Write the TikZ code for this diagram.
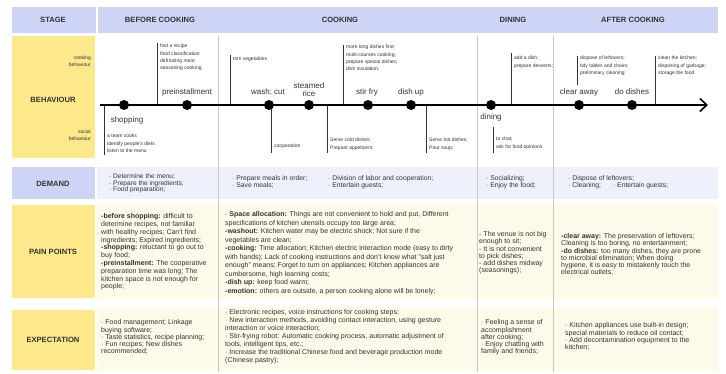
\documentclass[tikz,border=0pt]{standalone}
\usepackage{fontspec}
\setmainfont{Liberation Sans}
\usetikzlibrary{arrows.meta}
\definecolor{hdr}{HTML}{CDD4F6}
\definecolor{ylw}{HTML}{FDE98C}
\definecolor{dmd}{HTML}{EEF1FB}
\definecolor{crm}{HTML}{FCFAE8}
\definecolor{txt}{HTML}{333333}
\definecolor{divc}{HTML}{C8C8C8}
\begin{document}
\begin{tikzpicture}[x=1pt,y=-1pt,
  hd/.style={font=\bfseries\fontsize{7.6}{8}\selectfont, text=txt, inner sep=0},
  dot/.style={circle, fill=black, minimum size=10pt, inner sep=0},
  lbl/.style={font=\fontsize{8}{8.6}\selectfont, text=txt, inner sep=0, align=center},
  ann/.style={font=\fontsize{5}{7.2}\selectfont, text=txt, inner sep=0, anchor=north west, align=left},
  annr/.style={font=\fontsize{5}{7}\selectfont, text=txt, inner sep=0, anchor=north east, align=right},
  annline/.style={draw=black!80, line width=0.5pt},
  body/.style={font=\fontsize{7}{7.8}\selectfont, text=txt, inner sep=0, anchor=north west, align=left},
  divline/.style={draw=divc, line width=0.8pt},
  timeline/.style={draw=black, line width=1.8pt, -{Straight Barb[length=7pt,width=13pt,line width=1.6pt]}}
]
\useasboundingbox (0,0) rectangle (726,374);
\fill[white] (0,0) rectangle (726,374);
% header
\fill[hdr] (12,7) rectangle (96,33);
\fill[hdr] (98,7) rectangle (718,33);
% label boxes
\fill[ylw] (12,36) rectangle (95,158);
\fill[hdr] (12,167) rectangle (95,199);
\fill[ylw] (12,205) rectangle (95,298);
\fill[ylw] (12,310) rectangle (95,370);
% body backgrounds
\fill[dmd] (97,167) rectangle (718,199);
\fill[crm] (97,204) rectangle (718,299);
\fill[crm] (97,307) rectangle (718,371);
% dividers
\draw[divline] (218,36) -- (218,372);
\draw[divline] (477,36) -- (477,372);
\draw[divline] (553,36) -- (553,372);
% header texts
\node[hd] (hs) at (53,20) {STAGE};
\node[hd] (hb) at (160,20) {BEFORE COOKING};
\node[hd] (hc) at (340,20) {COOKING};
\node[hd] (hdn) at (513,20) {DINING};
\node[hd] (ha) at (633,20) {AFTER COOKING};
% row labels
\node[hd] (rb) at (53,100) {BEHAVIOUR};
\node[hd] (rd) at (53,184) {DEMAND};
\node[hd] (rp) at (53,252) {PAIN POINTS};
\node[hd] (re) at (53,340) {EXPECTATION};
\node[annr] (cb) at (91,55.5) {cooking\\behaviour};
\node[annr] (sb) at (91,129.5) {social\\behaviour};
% timeline
\coordinate (t0) at (100,105);
\coordinate (t1) at (708,105);
% annotation connectors (drawn before timeline)
\coordinate (a1b) at (104,105); \coordinate (a1e) at (104,155);
\coordinate (a2b) at (157,105); \coordinate (a2e) at (157,43);
\coordinate (a3b) at (230,105); \coordinate (a3e) at (230,55);
\coordinate (a4b) at (271,105); \coordinate (a4e) at (271,153);
\coordinate (a5b) at (327,105); \coordinate (a5e) at (327,153);
\coordinate (a6b) at (343,105); \coordinate (a6e) at (343,45);
\coordinate (a7b) at (426,105); \coordinate (a7e) at (426,153);
\coordinate (a8b) at (511,105); \coordinate (a8e) at (511,53);
\coordinate (a9b) at (493,127); \coordinate (a9e) at (493,153);
\coordinate (a10b) at (577,85); \coordinate (a10e) at (577,56);
\coordinate (a11b) at (655,105); \coordinate (a11e) at (655,56);
\foreach \i in {1,...,11} {\draw[annline] (a\i b) -- (a\i e);}
\draw[timeline] (t0) -- (t1);
% dots
\node[dot] (d1) at (124,105) {};
\node[dot] (d2) at (187,105) {};
\node[dot] (d3) at (269,105) {};
\node[dot] (d4) at (309,105) {};
\node[dot] (d5) at (368,105) {};
\node[dot] (d6) at (411,105) {};
\node[dot] (d7) at (491,105) {};
\node[dot] (d8) at (579,105) {};
\node[dot] (d9) at (632,105) {};
% step labels
\node[lbl] (l1) at (127,120) {shopping};
\node[lbl] (l2) at (187,92) {preinstallment};
\node[lbl] (l3) at (268,92) {wash; cut};
\node[lbl] (l4) at (309,89.5) {steamed\\rice};
\node[lbl] (l5) at (367,92) {stir fry};
\node[lbl] (l6) at (411,92) {dish up};
\node[lbl] (l7) at (491,117) {dining};
\node[lbl] (l8) at (579,92) {clear away};
\node[lbl] (l9) at (632,92) {do dishes};
% annotations
\node[ann] (n1) at (107,134) {a team cooks\\identify people's diets\\listen to the menu};
\node[ann] (n2) at (160,44) {find a recipe\\food classification\\defrosting meat\\seasoning cooking};
\node[ann] (n3) at (233,57) {trim vegetables};
\node[ann] (n4) at (274,144) {cooperation};
\node[ann] (n5) at (330,138) {Serve cold dishes;\\Prepare appetizers;};
\node[ann] (n6) at (346,45) {more long dishes first;\\multi-courses cooking;\\prepare special dishes;\\dish insulation;};
\node[ann] (n7) at (429,138) {Serve hot dishes;\\Pour soup;};
\node[ann] (n8) at (514,56) {add a dish;\\prepare desserts;};
\node[ann] (n9) at (496,137) {to chat;\\ask for food opinions};
\node[ann] (n10) at (580,56) {dispose of leftovers;\\tidy tables and chairs;\\preliminary cleaning};
\node[ann] (n11) at (658,56) {clean the kitchen;\\disposing of garbage;\\storage the food};
% demand
\node[body, font=\fontsize{6.6}{6.6}\selectfont] (db) at (109,173.7) {· Determine the menu;\\· Prepare the ingredients;\\· Food preparation;};
\node[body, font=\fontsize{6.8}{7}\selectfont] (dc1) at (232,175.7) {· Prepare meals in order;\\· Save meals;};
\node[body, font=\fontsize{6.8}{7}\selectfont] (dc2) at (328,175.7) {· Division of labor and cooperation;\\· Entertain guests;};
\node[body, font=\fontsize{6.8}{7}\selectfont] (dd) at (486,175.7) {· Socializing;\\· Enjoy the food;};
\node[body, font=\fontsize{6.8}{7}\selectfont] (da) at (568,175.7) {· Dispose of leftovers;\\· Cleaning;\hspace{12pt}· Entertain guests;};
% pain points
\node[body] (pb) at (101,213.5) {\textbf{-before shopping:} difficult to\\determine recipes, not familiar\\with healthy recipes; Can't find\\ingredients; Expired ingredients;\\\textbf{-shopping:} reluctant to go out to\\buy food;\\\textbf{-preinstallment:} The cooperative\\preparation time was long; The\\kitchen space is not enough for\\people;};
\node[body, font=\fontsize{7}{8.5}\selectfont] (pc) at (225,211.5) {· \textbf{Space allocation:} Things are not convenient to hold and put, Different\\specifications of kitchen utensils occupy too large area;\\\textbf{-washout:} Kitchen water may be electric shock; Not sure if the\\vegetables are clean;\\\textbf{-cooking:} Time allocation; Kitchen electric interaction mode (easy to dirty\\with hands); Lack of cooking instructions and don't know what "salt just\\enough" means; Forget to turn on appliances; Kitchen appliances are\\cumbersome, high learning costs;\\\textbf{-dish up:} keep food warm;\\\textbf{-emotion:} others are outside, a person cooking alone will be lonely;};
\node[body, font=\fontsize{7}{7.2}\selectfont] (pd) at (479,231.5) {- The venue is not big\\enough to sit;\\- It is not convenient\\to pick dishes;\\- add dishes midway\\(seasonings);};
\node[body, font=\fontsize{7}{7.2}\selectfont] (pa) at (561,233.5) {\textbf{-clear away:} The preservation of leftovers;\\Cleaning is too boring, no entertainment;\\\textbf{-do dishes:} too many dishes, they are prone\\to microbial elimination; When doing\\hygiene, it is easy to mistakenly touch the\\electrical outlets;};
% expectation
\node[body, font=\fontsize{7}{7.3}\selectfont] (eb) at (101,319.5) {· Food management; Linkage\\buying software;\\· Taste statistics, recipe planning;\\· Fun recipes; New dishes\\recommended;};
\node[body, font=\fontsize{7}{8}\selectfont] (ec) at (225,309.5) {· Electronic recipes, voice instructions for cooking steps;\\· New interaction methods, avoiding contact interaction, using gesture\\interaction or voice interaction;\\· Stir-frying robot: Automatic cooking process, automatic adjustment of\\tools, intelligent tips, etc.;\\· Increase the traditional Chinese food and beverage production mode\\(Chinese pastry);};
\node[body, font=\fontsize{7}{7.3}\selectfont] (ed) at (481,319.5) {· Feeling a sense of\\accomplishment\\after cooking;\\· Enjoy chatting with\\family and friends;};
\node[body, font=\fontsize{7}{7.3}\selectfont] (ea) at (565,322.5) {· Kitchen appliances use built-in design;\\special materials to reduce oil contact;\\· Add decontamination equipment to the\\kitchen;};
\end{tikzpicture}
\end{document}
